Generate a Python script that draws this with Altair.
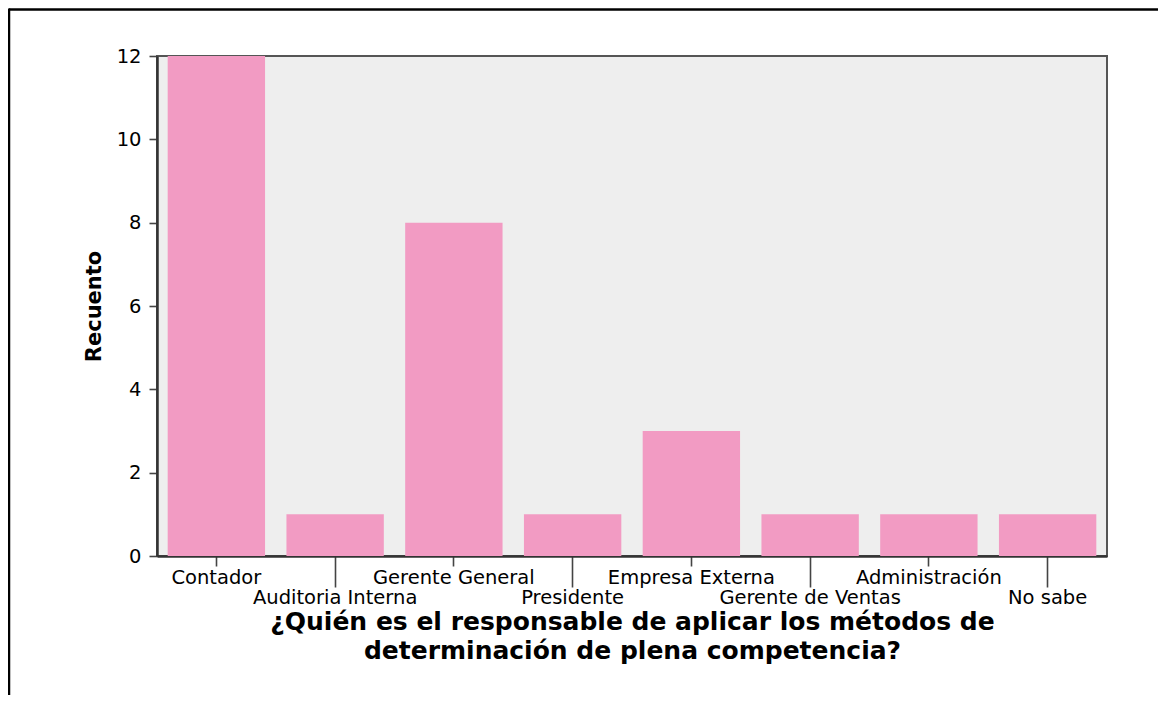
import json
import altair as alt
import pandas as pd

categories = [
    "Contador",
    "Auditoria Interna",
    "Gerente General",
    "Presidente",
    "Empresa Externa",
    "Gerente de Ventas",
    "Administración",
    "No sabe",
]
counts = [12, 1, 8, 1, 3, 1, 1, 1]
y_ticks = [0, 2, 4, 6, 8, 10, 12]
x_title = [
    "¿Quién es el responsable de aplicar los métodos de",
    "determinación de plena competencia?",
]
y_title = "Recuento"

df = pd.DataFrame({"cat": categories, "n": counts})
second_row = categories[1::2]
test = "indexof(" + json.dumps(second_row, ensure_ascii=False) + ", datum.value) >= 0"

FONT = "DejaVu Sans"

x_enc = alt.X(
    "cat:N",
    sort=categories,
    scale=alt.Scale(paddingInner=0.18, paddingOuter=0.09),
    axis=alt.Axis(
        title=x_title,
        labelAngle=0,
        labelFont=FONT,
        labelFontSize=19.5,
        labelColor="black",
        labelBaseline="top",
        labelLimit=400,
        labelPadding={"condition": {"test": test, "value": 1}, "value": 2},
        tickSize={"condition": {"test": test, "value": 31}, "value": 10},
        tickColor="#444444",
        tickWidth=1.6,
        domainColor="#333333",
        domainWidth=2.5,
        titleFont=FONT,
        titleFontSize=25,
        titleFontWeight="bold",
        titleColor="black",
        titleLineHeight=29,
        titlePadding=3,
    ),
)

y_enc = alt.Y(
    "n:Q",
    scale=alt.Scale(domain=[0, 12], nice=False),
    axis=alt.Axis(
        values=y_ticks,
        title=y_title,
        grid=False,
        labelFont=FONT,
        labelFontSize=19.5,
        labelColor="black",
        labelPadding=8,
        tickSize=8,
        tickColor="#444444",
        tickWidth=1.6,
        domainColor="#333333",
        domainWidth=2.5,
        titleFont=FONT,
        titleFontSize=21,
        titleFontWeight="bold",
        titleColor="black",
        titlePadding=12,
    ),
)

bars = alt.Chart(df).mark_bar(color="#F29BC3").encode(x=x_enc, y=y_enc)

one = pd.DataFrame({"k": [0]})
frame_top = alt.Chart(one).mark_rule(color="black", strokeWidth=2.5).encode(
    x=alt.value(-148), x2=alt.value(1002), y=alt.value(-46.5)
)
frame_left = alt.Chart(one).mark_rule(color="black", strokeWidth=2.5).encode(
    x=alt.value(-148), y=alt.value(-47.5), y2=alt.value(660)
)

chart = (
    alt.layer(bars, frame_top, frame_left)
    .properties(
        width=950,
        height=500,
        autosize=alt.AutoSizeParams(type="none"),
        padding={"left": 149, "top": 48, "right": 51, "bottom": 139},
        background="white",
    )
    .configure_view(fill="#EEEEEE", stroke="#555555", strokeWidth=2)
)

chart.save("out.html", embed_options={"renderer": "svg", "actions": False})
